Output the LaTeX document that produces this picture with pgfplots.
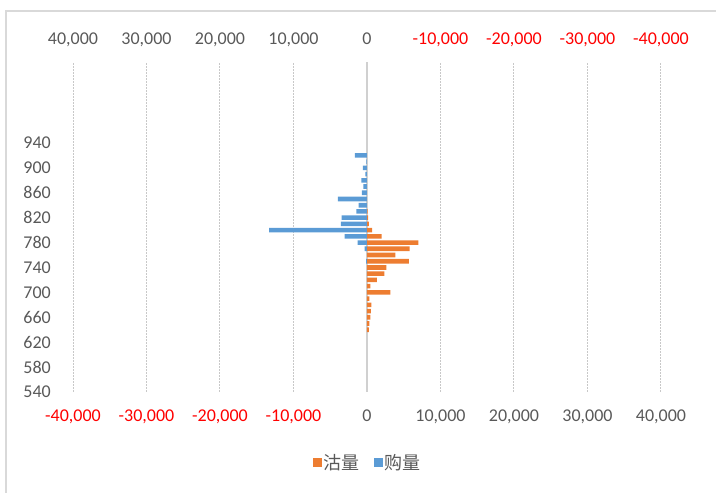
\documentclass[border=0pt]{standalone}
\usepackage{pgfplots}
\pgfplotsset{compat=1.18}
\usepackage{fontspec}
\setmainfont{Carlito}
\newfontfamily\cjk{Noto Sans CJK SC}
\definecolor{orangeC}{HTML}{ED7D31}
\definecolor{blueC}{HTML}{5B9BD5}
\definecolor{tickgray}{HTML}{595959}
\definecolor{negred}{HTML}{FF0000}
\definecolor{gridgray}{HTML}{C8C8C8}
\definecolor{bordergray}{HTML}{D9D9D9}
\definecolor{zerogray}{HTML}{D0D0D0}
\begin{document}
\begin{tikzpicture}[x=1pt,y=1pt]
\useasboundingbox (0,0) rectangle (716,493);
\draw[bordergray, line width=1.4pt] (6,0) -- (6,482) -- (716,482);
\begin{axis}[
  at={(73pt,101pt)}, anchor=south west,
  scale only axis, width=588pt, height=330pt,
  xmin=-40000, xmax=40000, ymin=540, ymax=1070,
  scaled x ticks=false, scaled y ticks=false,
  axis line style={draw=none}, major tick length=0pt,
  xtick={-40000,-30000,-20000,-10000,0,10000,20000,30000,40000},
  xticklabels={{\textcolor{negred}{-40,000}},{\textcolor{negred}{-30,000}},{\textcolor{negred}{-20,000}},{\textcolor{negred}{-10,000}},0,{10,000},{20,000},{30,000},{40,000}},
  ytick={540,580,620,660,700,740,780,820,860,900,940},
  yticklabels={540,580,620,660,700,740,780,820,860,900,940},
  tick label style={font=\fontsize{18}{21}\selectfont, text=tickgray},
  xticklabel style={anchor=base, inner sep=0pt, yshift=-29.5pt},
  yticklabel style={anchor=east, inner sep=0pt, xshift=-22pt},
  xmajorgrids, major grid style={draw=gridgray, line width=1pt, dash pattern=on 1.5pt off 1.5pt},
  extra x ticks={0}, extra x tick labels={},
  extra x tick style={grid=major, major grid style={solid, draw=zerogray, line width=2pt}},
  legend columns=2,
  legend style={at={(axis description cs:0.5009,-0.215)}, anchor=center, draw=none, fill=none,
    font=\cjk\fontsize{18}{21}\selectfont, text=tickgray,
    /tikz/every even column/.append style={column sep=12pt},
    nodes={inner sep=2pt}},
  legend image code/.code={\fill[#1] (0pt,-4.5pt) rectangle (9pt,4.5pt);},
]
\addplot[xbar, bar width=4.6pt, fill=orangeC, draw=none] coordinates {
(270,640) (320,650) (450,660) (540,670) (590,680) (320,690) (3170,700)
(450,710) (1360,720) (2360,730) (2630,740) (5710,750) (3850,760) (5800,770)
(6980,780) (2000,790) (700,800) (270,810) (150,820) (100,830)
};
\addlegendentry{沽量}
\addlegendimage{fill=blueC, draw=none}
\addlegendentry{购量}
\end{axis}
\begin{axis}[
  at={(73pt,101pt)}, anchor=south west,
  scale only axis, width=588pt, height=330pt,
  x dir=reverse,
  xmin=-40000, xmax=40000, ymin=540, ymax=1070,
  scaled x ticks=false, scaled y ticks=false,
  axis line style={draw=none}, major tick length=0pt,
  xticklabel pos=upper,
  xtick={-40000,-30000,-20000,-10000,0,10000,20000,30000,40000},
  xticklabels={{\textcolor{negred}{-40,000}},{\textcolor{negred}{-30,000}},{\textcolor{negred}{-20,000}},{\textcolor{negred}{-10,000}},0,{10,000},{20,000},{30,000},{40,000}},
  ytick=\empty,
  tick label style={font=\fontsize{18}{21}\selectfont, text=tickgray},
  xticklabel style={anchor=base, inner sep=0pt, yshift=18pt},
]
\addplot[xbar, bar width=4.6pt, fill=blueC, draw=none] coordinates {
(120,750) (330,770) (1280,780) (3040,790) (13300,800) (3540,810) (3450,820)
(1450,830) (1130,840) (3950,850) (680,860) (500,870) (770,880) (230,890)
(550,900) (80,910) (1650,920)
};
\end{axis}
\end{tikzpicture}
\end{document}
